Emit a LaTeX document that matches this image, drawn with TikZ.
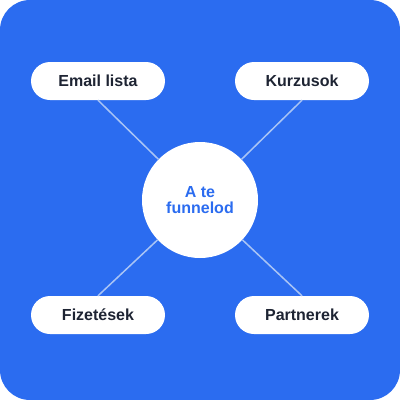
\documentclass[tikz,border=0pt]{standalone}
\usepackage{fontspec}
\setmainfont{Liberation Sans}
\definecolor{bgblue}{HTML}{2B6CF0}
\definecolor{darktext}{HTML}{1E2433}
\definecolor{linkcol}{HTML}{A9C4F5}
\begin{document}
\begin{tikzpicture}[x=1pt,y=-1pt,
  pill/.style={fill=white, rounded corners=19pt, minimum width=134pt, minimum height=38pt,
    inner sep=0pt, text=darktext, font=\fontsize{16}{17}\selectfont\bfseries},
  hub/.style={circle, fill=white, minimum size=116pt, inner sep=0pt, text=bgblue,
    align=center, font=\fontsize{16}{16.5}\selectfont\bfseries},
  link/.style={draw=linkcol, line width=1.5pt}]
\useasboundingbox (0,0) rectangle (400,400);
\fill[bgblue, rounded corners=30pt] (0,0) rectangle (400,400);
\node[hub] (c) at (200,200) {A te\\funnelod};
\node[pill] (e) at (98,81) {Email lista};
\node[pill] (k) at (302,81) {Kurzusok};
\node[pill] (f) at (98,315) {Fizetések};
\node[pill] (p) at (302,315) {Partnerek};
\draw[link] (e.south) -- (c);
\draw[link] (k.south) -- (c);
\draw[link] (f.north) -- (c);
\draw[link] (p.north) -- (c);
\end{tikzpicture}
\end{document}
